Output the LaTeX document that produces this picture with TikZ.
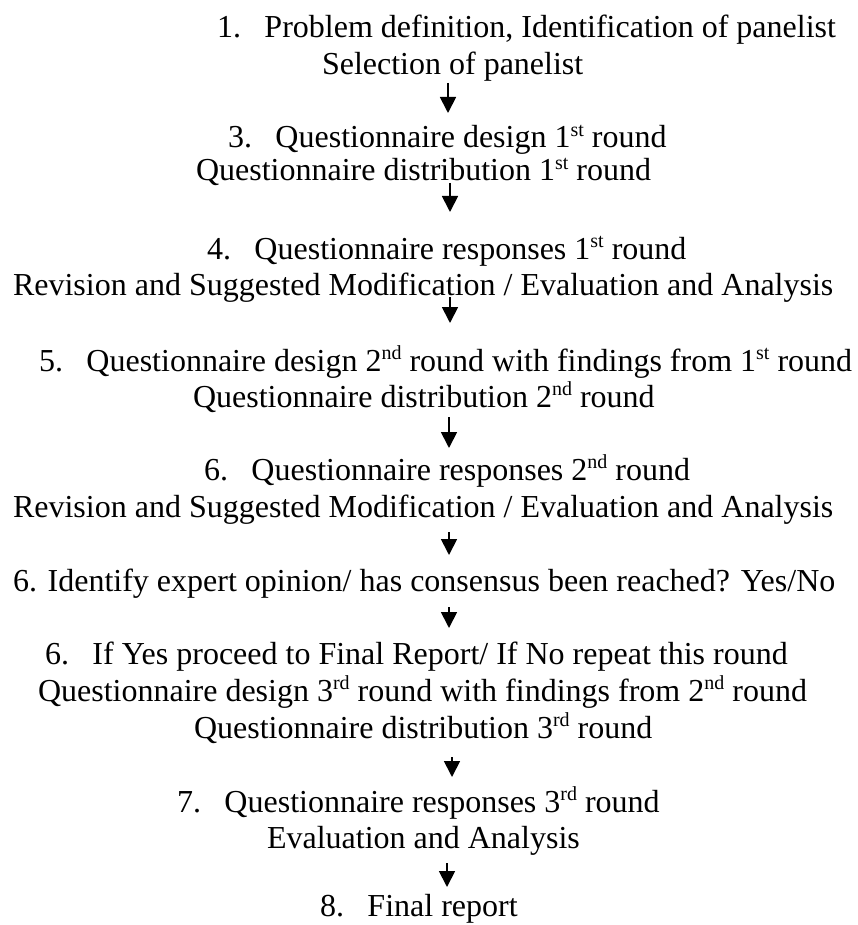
\documentclass[tikz,border=0pt]{standalone}
\usepackage{fontspec}
\setmainfont{Liberation Serif}
\usetikzlibrary{arrows.meta}
\newcommand{\numbox}[1]{\makebox[47.5pt][l]{#1}}
\newcommand{\sups}[1]{\raisebox{11.5pt}{\fontsize{20}{20}\selectfont #1}}
\begin{document}
\begin{tikzpicture}[x=1pt,y=-1pt,
  txt/.style={anchor=base west,inner sep=0pt,outer sep=0pt,font=\fontsize{32}{38}\selectfont},
  arr/.style={line width=1.8pt,-{Triangle[width=16pt,length=16pt]}}]
\useasboundingbox (0,0) rectangle (858,925);
\node[txt] (l1) at (217,38) {\numbox{1.}Problem definition, Identification of panelist};
\node[txt] (l2) at (322,75) {Selection of panelist};
\node[txt] (l3) at (228,148) {\numbox{3.}Questionnaire design 1\sups{st} round};
\node[txt] (l4) at (196,181) {Questionnaire distribution 1\sups{st} round};
\node[txt] (l5) at (207,259) {\numbox{4.}Questionnaire responses 1\sups{st} round};
\node[txt] (l6) at (13,295) {Revision and Suggested Modification / Evaluation and Analysis};
\node[txt] (l7) at (39,371) {\numbox{5.}Questionnaire design 2\sups{nd} round with findings from 1\sups{st} round};
\node[txt] (l8) at (193,407) {Questionnaire distribution 2\sups{nd} round};
\node[txt] (l9) at (204,480) {\numbox{6.}Questionnaire responses 2\sups{nd} round};
\node[txt] (l10) at (13,517) {Revision and Suggested Modification / Evaluation and Analysis};
\node[txt] (l11) at (13,591) {6. Identify expert opinion/ has consensus been reached? Yes/No};
\node[txt] (l12) at (45,664) {\numbox{6.}If Yes proceed to Final Report/ If No repeat this round};
\node[txt] (l13) at (38,701) {Questionnaire design 3\sups{rd} round with findings from 2\sups{nd} round};
\node[txt] (l14) at (194,738) {Questionnaire distribution 3\sups{rd} round};
\node[txt] (l15) at (177,812) {\numbox{7.}Questionnaire responses 3\sups{rd} round};
\node[txt] (l16) at (267,848) {Evaluation and Analysis};
\node[txt] (l17) at (320,916) {\numbox{8.}Final report};
\coordinate (a1s) at (448,83);  \coordinate (a1e) at (448,113);
\coordinate (a2s) at (450,183); \coordinate (a2e) at (450,212);
\coordinate (a3s) at (450,297); \coordinate (a3e) at (450,323);
\coordinate (a4s) at (449,417); \coordinate (a4e) at (449,448);
\coordinate (a5s) at (449,532); \coordinate (a5e) at (449,555);
\coordinate (a6s) at (449,607); \coordinate (a6e) at (449,628);
\coordinate (a7s) at (452,757); \coordinate (a7e) at (452,777);
\coordinate (a8s) at (447,863); \coordinate (a8e) at (447,887);
\foreach \i in {1,...,8} {\draw[arr] (a\i s) -- (a\i e);}
\end{tikzpicture}
\end{document}
